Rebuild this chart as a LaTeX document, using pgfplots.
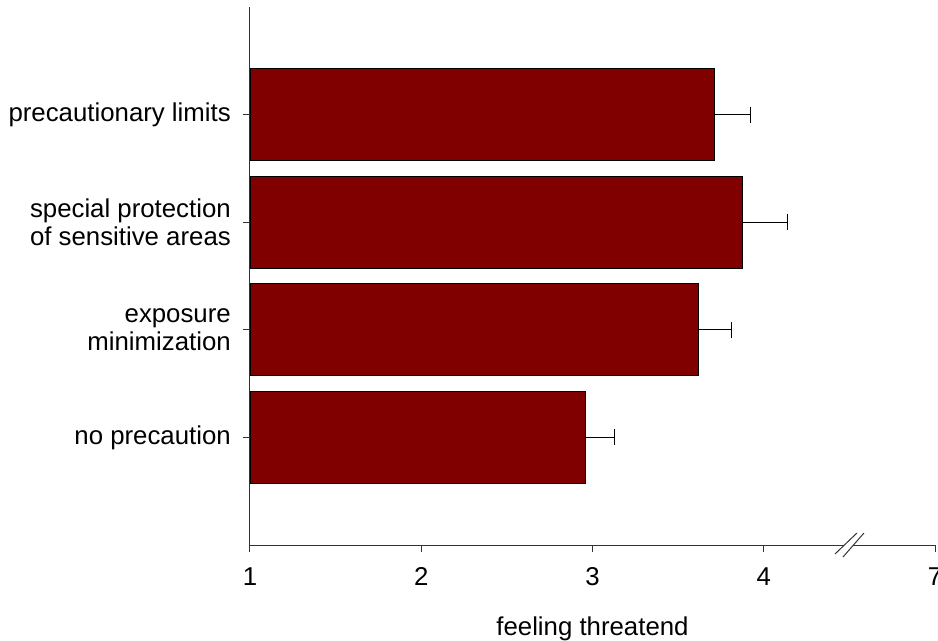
\documentclass[border=0pt]{standalone}
\usepackage{pgfplots}
\pgfplotsset{compat=1.18}
\usepackage{fontspec}
\setmainfont{Liberation Sans}
\definecolor{barred}{HTML}{800000}
\begin{document}
\fontsize{25.8bp}{28bp}\selectfont
\begin{tikzpicture}
\path[use as bounding box] (-250bp,-96bp) rectangle (688bp,545bp);
\begin{axis}[
  at={(0bp,0bp)}, anchor=south west,
  scale only axis, width=685bp, height=538bp,
  xmin=1, xmax=5, ymin=-1, ymax=4,
  axis lines=left,
  axis line style={-, draw=black!80, line width=1bp},
  xtick={1,2,3,4,5}, xticklabels={1,2,3,4,7},
  ytick={0,1,2,3},
  yticklabels={no precaution, {exposure\\minimization}, {special protection\\of sensitive areas}, precautionary limits},
  tick align=outside, major tick length=7bp,
  tick style={black!80, line width=1bp},
  /pgf/number format/assume math mode=true,
  tick label style={font=\fontsize{25.8bp}{28bp}\selectfont, inner sep=0pt},
  xticklabel style={anchor=base, yshift=-33bp},
  yticklabel style={anchor=east, align=right, xshift=-12bp},
  xlabel={feeling threatend},
  xlabel style={font=\fontsize{25.8bp}{28bp}\selectfont, inner sep=0pt, at={(axis description cs:0.5,0)}, anchor=base, yshift=-90bp},
  clip mode=individual,
  xbar, bar width=92bp,
]
\addplot[fill=barred, draw=black, line width=0.8bp,
  error bars/.cd, x dir=plus, x explicit, error mark=|,
  error bar style={black, line width=1bp},
  error mark options={black, line width=1bp, mark size=8bp}]
coordinates {
  (2.96,0) +- (0.17,0)
  (3.62,1) +- (0.19,0)
  (3.875,2) +- (0.265,0)
  (3.71,3) +- (0.21,0)
};
\draw[white, line width=4bp] ([xshift=-5bp]axis cs:4.5,-1) -- ([xshift=4bp]axis cs:4.5,-1);
\draw[black!80, line width=1bp] ([xshift=-14.4bp,yshift=-9bp]axis cs:4.5,-1) -- ([xshift=7.6bp,yshift=12bp]axis cs:4.5,-1);
\draw[black!80, line width=1bp] ([xshift=-6.4bp,yshift=-12bp]axis cs:4.5,-1) -- ([xshift=14.6bp,yshift=12bp]axis cs:4.5,-1);
\end{axis}
\end{tikzpicture}
\end{document}
